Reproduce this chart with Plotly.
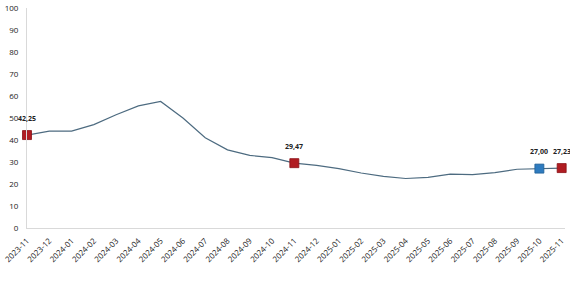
import plotly.graph_objects as go

months = ["2023-11","2023-12","2024-01","2024-02","2024-03","2024-04","2024-05","2024-06",
          "2024-07","2024-08","2024-09","2024-10","2024-11","2024-12","2025-01","2025-02",
          "2025-03","2025-04","2025-05","2025-06","2025-07","2025-08","2025-09","2025-10","2025-11"]
values = [42.25, 44.0, 44.0, 47.0, 51.5, 55.5, 57.5, 50.0, 41.0, 35.5, 33.0, 32.0, 29.47,
          28.5, 27.0, 25.0, 23.5, 22.5, 23.0, 24.5, 24.3, 25.2, 26.7, 27.00, 27.23]
red_months = ["2023-11", "2024-11", "2025-11"]
blue_months = ["2025-10"]
y_ticks = list(range(0, 101, 10))

def fmt(v):
    return f"{v:.2f}".replace(".", ",")

val = dict(zip(months, values))

fig = go.Figure()
fig.add_trace(go.Scatter(x=months, y=values, mode="lines",
                         line=dict(color="#4d6b80", width=1.2), hoverinfo="skip"))
fig.add_trace(go.Scatter(x=red_months, y=[val[m] for m in red_months], mode="markers",
                         marker=dict(symbol="square", size=9, color="#b01c22",
                                     line=dict(color="#8a1015", width=0.8)),
                         cliponaxis=False))
fig.add_trace(go.Scatter(x=blue_months, y=[val[m] for m in blue_months], mode="markers",
                         marker=dict(symbol="square", size=9, color="#2e7bbf",
                                     line=dict(color="#1f5f96", width=0.8)),
                         cliponaxis=False))
for m in red_months + blue_months:
    fig.add_annotation(x=m, y=val[m], text=f"<b>{fmt(val[m])}</b>", showarrow=False,
                       yshift=17, font=dict(size=7, color="#222", family="Open Sans"))

fig.update_layout(
    width=570, height=285, showlegend=False,
    margin=dict(l=25, r=5, t=2, b=57),
    paper_bgcolor="white", plot_bgcolor="white",
    font=dict(family="Open Sans", size=8, color="#222"),
    xaxis=dict(type="category", range=[0, 24.15], showgrid=False, showline=True,
               linecolor="#d9d9d9", linewidth=1, tickangle=-45, ticks="",
               ticklabelstandoff=4,
               tickfont=dict(size=8, color="#222")),
    yaxis=dict(range=[0, 100], tickvals=y_ticks, showgrid=False, showline=True,
               linecolor="#d9d9d9", linewidth=1, ticks="", zeroline=False,
               ticklabelstandoff=6,
               ticklabeloverflow="allow", tickfont=dict(size=8, color="#222")),
)
fig.write_html("out.html")
